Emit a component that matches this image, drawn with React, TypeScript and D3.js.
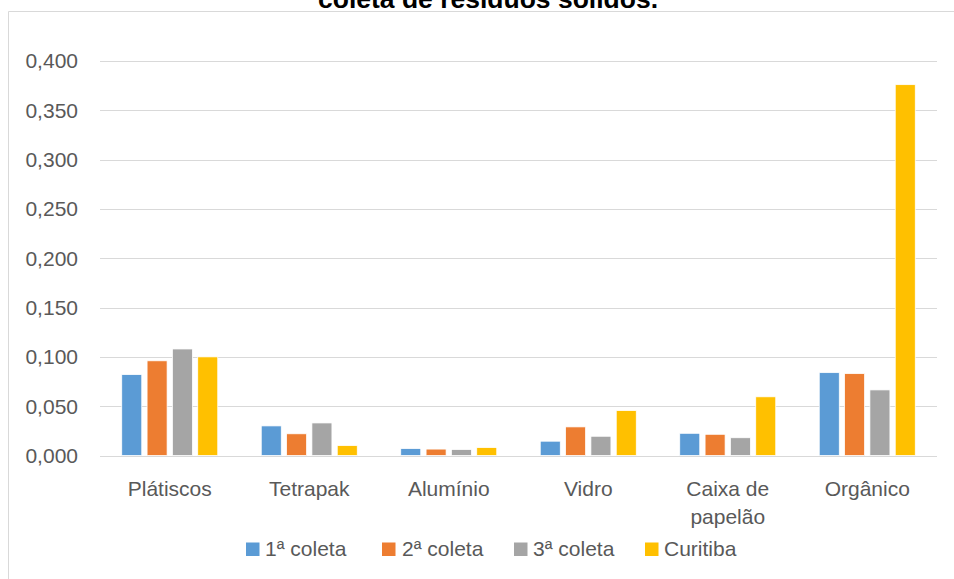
import React from "react";
import * as d3 from "d3";

const categories = ["Plátiscos", "Tetrapak", "Alumínio", "Vidro", "Caixa de papelão", "Orgânico"];
const categoryLines = [["Plátiscos"], ["Tetrapak"], ["Alumínio"], ["Vidro"], ["Caixa de", "papelão"], ["Orgânico"]];
const seriesNames = ["1ª coleta", "2ª coleta", "3ª coleta", "Curitiba"];
const coleta1 = [0.082, 0.030, 0.007, 0.0145, 0.0225, 0.084];
const coleta2 = [0.096, 0.022, 0.0065, 0.029, 0.0215, 0.083];
const coleta3 = [0.108, 0.033, 0.006, 0.0195, 0.018, 0.0665];
const curitiba = [0.100, 0.010, 0.008, 0.0455, 0.0595, 0.376];
const yTicks = [0, 0.05, 0.1, 0.15, 0.2, 0.25, 0.3, 0.35, 0.4];
const colors = ["#5b9bd5", "#ed7d31", "#a5a5a5", "#ffc000"];

const W = 954;
const H = 579;
const plot = { left: 100, right: 937, top: 61, bottom: 455.5 };

export default function App() {
  const seriesValues = [coleta1, coleta2, coleta3, curitiba];
  const x = d3.scaleBand<string>().domain(categories).range([plot.left, plot.right]).paddingInner(0).paddingOuter(0);
  const y = d3.scaleLinear().domain([0, 0.4]).range([plot.bottom, plot.top]);
  const groupW = 96;
  const inner = d3.scaleBand<string>().domain(seriesNames).range([0, groupW]).paddingInner(0.21).paddingOuter(0);
  const fmt = (v: number) => d3.format(".3f")(v).replace(".", ",");
  const font = "'Liberation Sans', Arial, sans-serif";
  const fs = 21;

  const legendItems = [
    { x: 246, textX: 265 },
    { x: 382, textX: 402 },
    { x: 514, textX: 533 },
    { x: 645, textX: 664 },
  ];

  return (
    <svg width={W} height={H} style={{ position: "absolute", left: 0, top: 0, background: "#fff" }} fontFamily={font}>
      <rect x={0} y={0} width={W} height={H} fill="#fff" />
      {/* frame */}
      <line x1={8.5} y1={11.5} x2={W} y2={11.5} stroke="#d9d9d9" strokeWidth={1} />
      <line x1={8.5} y1={11.5} x2={8.5} y2={H} stroke="#d9d9d9" strokeWidth={1} />
      {/* title (second line visible) */}
      <text x={488} y={7.5} textAnchor="middle" fontWeight="bold" fontSize={26} fill="#000" textLength={340} lengthAdjust="spacingAndGlyphs">
        coleta de resíduos sólidos.
      </text>
      {/* gridlines */}
      {yTicks.map((t) => (
        <line key={t} x1={plot.left} x2={plot.right} y1={Math.round(y(t)) + 0.5} y2={Math.round(y(t)) + 0.5} stroke="#d9d9d9" strokeWidth={1} />
      ))}
      {/* y tick labels */}
      {yTicks.map((t) => (
        <text key={"l" + t} x={78} y={y(t)} dy="0.35em" textAnchor="end" fontSize={fs} fill="#595959">
          {fmt(t)}
        </text>
      ))}
      {/* bars */}
      {categories.map((c, ci) => {
        const gx = (x(c) as number) + (x.bandwidth() - groupW) / 2;
        return seriesNames.map((s, si) => {
          const v = seriesValues[si][ci];
          return (
            <rect
              key={c + s}
              x={gx + (inner(s) as number)}
              y={y(v)}
              width={inner.bandwidth()}
              height={y(0) - y(v)}
              fill={colors[si]}
              stroke="#fff"
              strokeWidth={0.75}
            />
          );
        });
      })}
      {/* category labels */}
      {categories.map((c, ci) => (
        <text key={"c" + c} x={(x(c) as number) + x.bandwidth() / 2} y={489} textAnchor="middle" fontSize={fs} fill="#595959">
          {categoryLines[ci].map((line, li) => (
            <tspan key={li} x={(x(c) as number) + x.bandwidth() / 2} dy={li === 0 ? "0.35em" : 28}>
              {line}
            </tspan>
          ))}
        </text>
      ))}
      {/* legend */}
      {seriesNames.map((s, si) => (
        <g key={"lg" + s}>
          <rect x={legendItems[si].x} y={542.5} width={13.5} height={13.5} fill={colors[si]} />
          <text x={legendItems[si].textX} y={549} dy="0.35em" fontSize={fs} fill="#595959">
            {s}
          </text>
        </g>
      ))}
    </svg>
  );
}
